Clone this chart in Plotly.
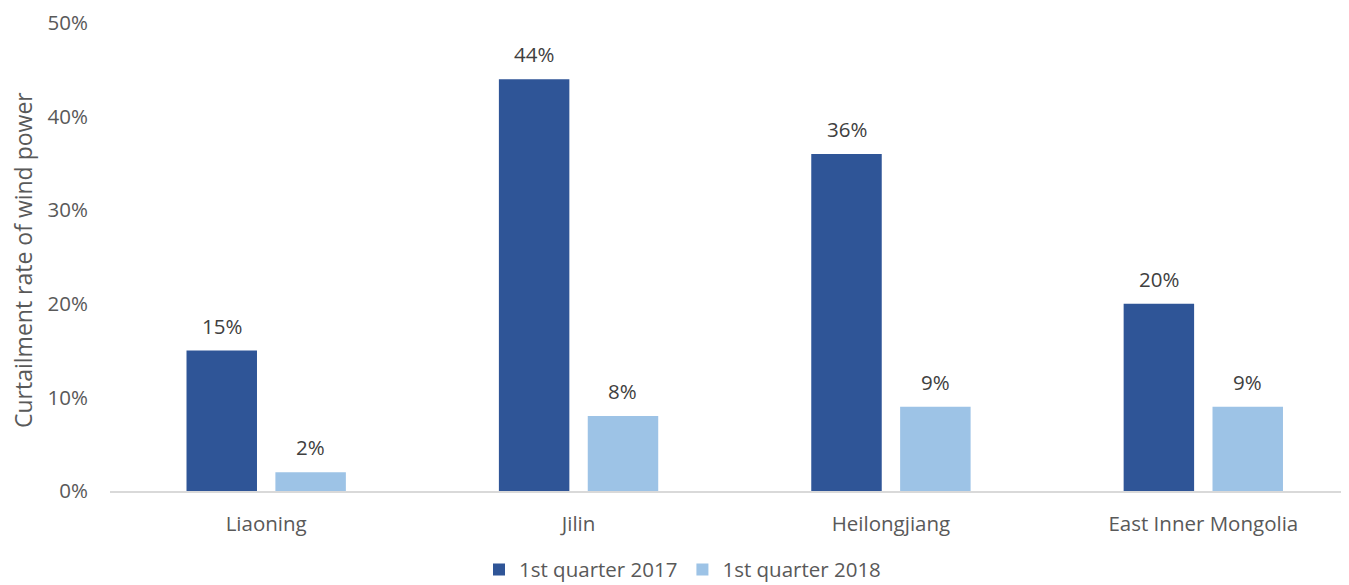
import plotly.graph_objects as go

categories = ["Liaoning", "Jilin", "Heilongjiang", "East Inner Mongolia"]
q1_2017 = [15, 44, 36, 20]
q1_2018 = [2, 8, 9, 9]
series_names = ["1st quarter 2017", "1st quarter 2018"]
y_ticks = [0, 10, 20, 30, 40, 50]
y_tick_labels = ["0%", "10%", "20%", "30%", "40%", "50%"]

FONT = "Open Sans"
FS = 20.5
W, H = 1349, 585
L, R, T, B = 102, 0, 15, 102
BARGAP, GROUPGAP = 0.431, 0.207
X_RANGE = [-0.5, 3.492]

fig = go.Figure()
colors = ["#2F5597", "#9DC3E6"]
for name, vals, color in zip(series_names, [q1_2017, q1_2018], colors):
    fig.add_trace(go.Bar(
        x=categories, y=vals, name=name,
        marker=dict(color=color, line=dict(width=0)),
    ))

# data labels placed above each bar
plot_w = W - L - R
cat_w = plot_w / (X_RANGE[1] - X_RANGE[0])
slot = cat_w * (1 - BARGAP) / 2
for i, vals in enumerate([q1_2017, q1_2018]):
    shift = (i - 0.5) * slot
    for c, v in zip(categories, vals):
        fig.add_annotation(x=c, y=v, xref="x", yref="y", text=f"{v}%",
                           showarrow=False, xshift=shift, yshift=9,
                           yanchor="bottom",
                           font=dict(family=FONT, size=FS, color="#404040"))

# y-axis title
fig.add_annotation(xref="paper", yref="paper", x=0, y=0.5, xshift=-87,
                   yshift=-3, text="Curtailment rate of wind power",
                   textangle=-90, showarrow=False, xanchor="center",
                   yanchor="middle",
                   font=dict(family=FONT, size=23, color="#595959"))

fig.update_layout(
    width=W, height=H,
    margin=dict(l=L, r=R, t=T, b=B, autoexpand=False),
    paper_bgcolor="white", plot_bgcolor="white",
    barmode="group", bargap=BARGAP, bargroupgap=GROUPGAP,
    font=dict(family=FONT, size=FS, color="#595959"),
    showlegend=True,
    legend=dict(orientation="h", xref="container", x=0.5, xanchor="center",
                yref="container", y=0.04, yanchor="middle",
                font=dict(family=FONT, size=FS, color="#595959"),
                traceorder="normal"),
    xaxis=dict(showline=True, linecolor="#D9D9D9", linewidth=1.5,
               range=X_RANGE, automargin=False,
               ticks="outside", ticklen=14, tickcolor="rgba(0,0,0,0)",
               tickfont=dict(family=FONT, size=FS, color="#595959"),
               showgrid=False, zeroline=False),
    yaxis=dict(range=[0, 50], tickvals=y_ticks, ticktext=y_tick_labels,
               automargin=False,
               showgrid=False, zeroline=False, showline=False,
               ticks="outside", ticklen=17, tickcolor="rgba(0,0,0,0)",
               tickfont=dict(family=FONT, size=FS, color="#595959")),
)

fig.write_html("out.html")
